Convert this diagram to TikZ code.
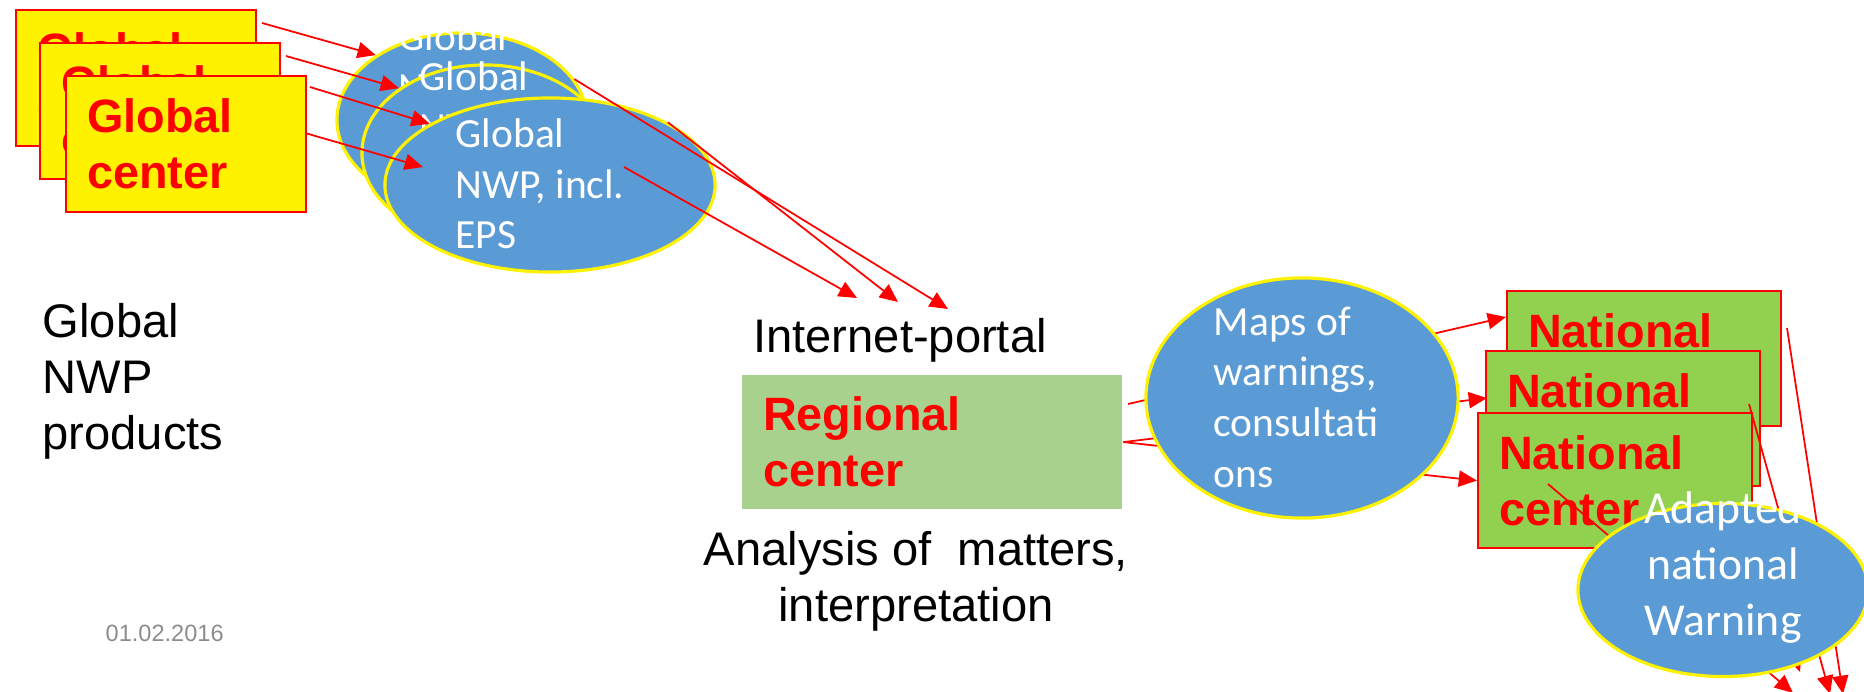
\documentclass[tikz,border=0pt]{standalone}
\usepackage{fontspec}
\setmainfont{Liberation Sans}
\newfontfamily\calibri{Carlito}
\usetikzlibrary{arrows.meta,shapes.geometric}
\definecolor{nwpblue}{HTML}{5B9BD5}
\definecolor{natgreen}{HTML}{92D050}
\definecolor{reggreen}{HTML}{A9D18E}
\definecolor{dategray}{HTML}{8C8C8C}
\tikzset{hub/.style={rectangle, draw=red, line width=0.6pt, fill=yellow, text=red, align=left, anchor=north west, inner xsep=0.21cm, inner ysep=0pt, minimum height=1.36cm, font=\fontsize{13.3}{16}\selectfont\bfseries}}
\tikzset{blob/.style={ellipse, draw=yellow, line width=0.9pt, fill=nwpblue, inner sep=0pt}}
\tikzset{blobtext/.style={text=white, align=left, inner sep=0pt, anchor=north west, font=\calibri\fontsize{11.8}{14.4}\selectfont}}
\tikzset{caption/.style={inner sep=0pt, font=\fontsize{13.4}{15.9}\selectfont}}
\tikzset{flow/.style={red, line width=0.5pt, -{Triangle[length=5.2pt,width=4.6pt]}}}

\begin{document}
\begin{tikzpicture}[x=0.01cm,y=-0.01cm]
		\useasboundingbox (0,0) rectangle (1864,691);
		% global centres
		\node[hub, text width=1.98cm] (gc1) at (15,9) {Global\\center};
		\node[hub, text width=1.98cm] (gc2) at (39,42) {Global\\center};
		\node[hub, text width=1.98cm] (gc3) at (65,75) {Global\\center};
		% global NWP products
		\node[blob, minimum width=2.5cm, minimum height=1.74cm] (nwp1) at (462,120) {};
		\node[blobtext] (nwp1txt) at (398,21) {Global\\NWP,\\incl.\\EPS};
		\node[blob, minimum width=2.46cm, minimum height=1.76cm] (nwp2) at (485,153) {};
		\node[blobtext] (nwp2txt) at (419,61) {Global\\NWP,\\incl.\\EPS};
		\node[blob, minimum width=3.3cm, minimum height=1.74cm] (nwp3) at (550,185) {};
		\node[blobtext] (nwp3txt) at (455,118) {Global\\NWP, incl.\\EPS};
		\coordinate (a1s) at (262,23);
		\coordinate (a2s) at (286,56);
		\coordinate (a3s) at (310,87);
		\coordinate (a4s) at (305,133);
		\coordinate (a4e) at (423,167);
		\draw[flow] (a1s) -- (nwp1.143);
		\draw[flow] (a2s) -- (nwp2.143);
		\draw[flow] (a3s) -- (nwp3.153);
		\draw[flow] (a4s) -- (a4e);
		% into the portal
		\coordinate (p1e) at (948,309);
		\coordinate (p2e) at (898,302);
		\coordinate (p3s) at (624,167);
		\coordinate (p3e) at (857,298);
		\draw[flow] (nwp1.20) -- (p1e);
		\draw[flow] (nwp3.28) -- (p2e);
		\draw[flow] (p3s) -- (p3e);
		\node[caption, align=left, anchor=north west] (products) at (42,303) {Global\\NWP\\products};
		\node[inner sep=0pt, anchor=north west, text=dategray, font=\fontsize{6.7}{8}\selectfont] (date) at (105,624) {01.02.2016};
		\node[caption, anchor=north] (portal) at (900,318) {Internet-portal};
		\node[hub, fill=reggreen, draw=none, text width=3.38cm, minimum height=1.34cm] (regional) at (741,374) {Regional\\center};
		\node[caption, align=center, anchor=north] (analysis) at (916,531) {Analysis of\ \ matters,\\interpretation};
		% national centres
		\node[hub, fill=natgreen, text width=2.32cm, minimum height=1.35cm] (nc1) at (1506,290) {National\\center};
		\node[hub, fill=natgreen, text width=2.32cm, minimum height=1.35cm] (nc2) at (1485,350) {National\\center};
		\node[hub, fill=natgreen, text width=2.32cm, minimum height=1.35cm] (nc3) at (1477,412) {National\\center};
		\coordinate (r1s) at (1128,404);
		\coordinate (r1e) at (1506,317);
		\coordinate (r2e) at (1487,398);
		\draw[flow] (r1s) -- (r1e);
		\draw[flow] (regional.east) -- (r2e);
		\draw[flow] (regional.east) -- (nc3.west);
		\node[blob, minimum width=3.12cm, minimum height=2.4cm] (maps) at (1302,398) {};
		\node[blobtext] (mapstxt) at (1213,306) {Maps of\\warnings,\\consultati\\ons};
		% down to the national warning
		\coordinate (n1s) at (1787,328);
		\coordinate (n1e) at (1843,694);
		\coordinate (n2s) at (1749,404);
		\coordinate (n2e) at (1830,694);
		\coordinate (n3s) at (1548,484);
		\coordinate (n3e) at (1793,693);
		\coordinate (n4s) at (1768,585);
		\coordinate (n4e) at (1800,672);
		\draw[flow] (n1s) -- (n1e);
		\draw[flow] (n2s) -- (n2e);
		\draw[flow] (n3s) -- (n3e);
		\draw[flow] (n4s) -- (n4e);
		\node[blob, minimum width=2.9cm, minimum height=1.73cm] (adapted) at (1723,590) {};
		\node[blobtext, align=center, anchor=north, font=\calibri\fontsize{13}{15.9}\selectfont] (adaptedtxt) at (1723,491) {Adapted\\national\\Warning};
\end{tikzpicture}
\end{document}
